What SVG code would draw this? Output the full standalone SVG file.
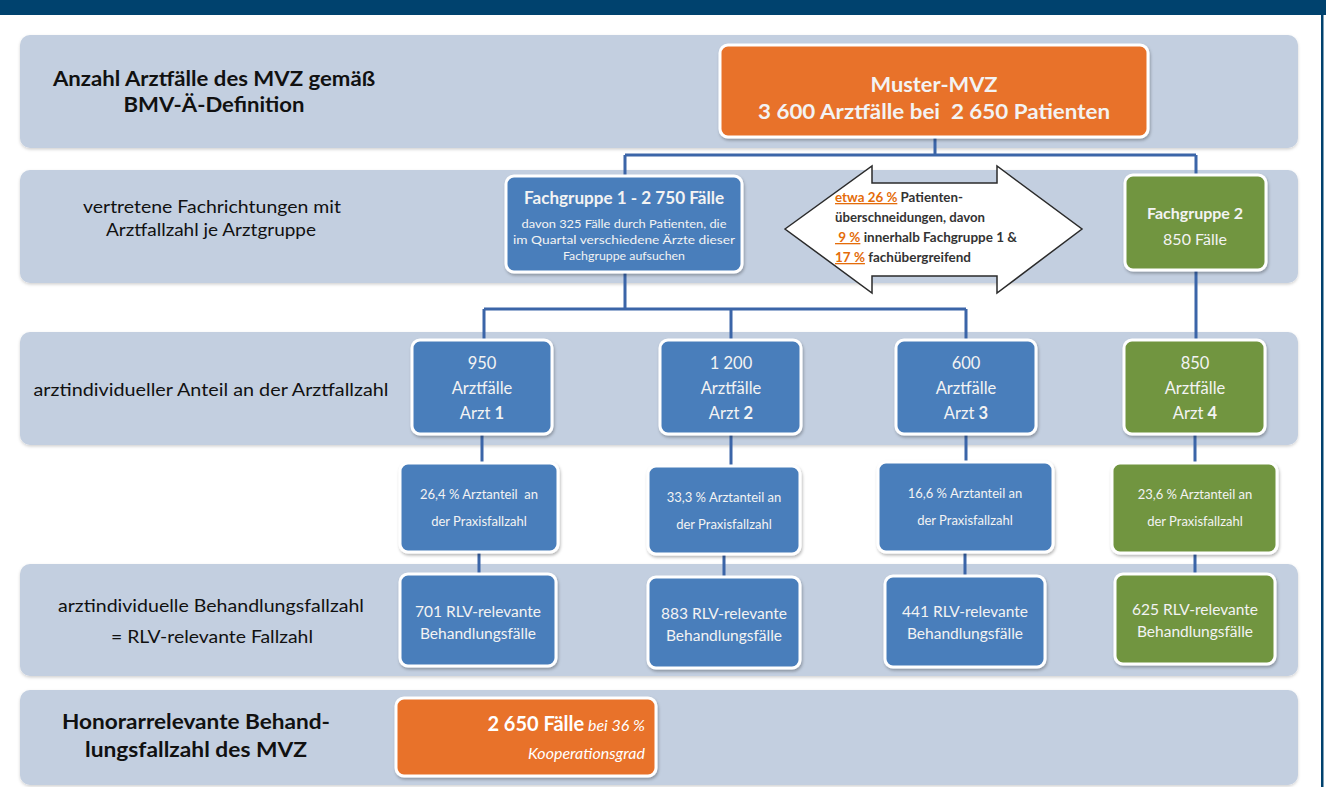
<svg xmlns="http://www.w3.org/2000/svg" width="1326" height="787" viewBox="0 0 1326 787">
<defs>
<filter id="sh" x="-10%" y="-10%" width="125%" height="130%"><feDropShadow dx="1" dy="2" stdDeviation="1.8" flood-color="#000" flood-opacity="0.28"/></filter>
<filter id="bsh" x="-2%" y="-5%" width="104%" height="115%"><feDropShadow dx="0" dy="1.5" stdDeviation="1.5" flood-color="#000" flood-opacity="0.18"/></filter>
</defs>
<style>
.band{fill:#c3cfe0;filter:url(#bsh)}
.blue{fill:#4a7ebb;stroke:#fff;stroke-width:3;filter:url(#sh)}
.green{fill:#71953f;stroke:#fff;stroke-width:3;filter:url(#sh)}
.orange{fill:#e8722a;stroke:#fff;stroke-width:3;filter:url(#sh)}
text{font-family:Lato,"Liberation Sans",sans-serif}
.lbl{fill:#111;text-anchor:middle;font-size:18px}
.lblb{fill:#111;text-anchor:middle;font-weight:bold}
.bt{fill:#f3f3f3;text-anchor:middle}
.r3{font-size:16.5px}
.r4{font-size:13px}
.r5{font-size:15.5px}
.conn{stroke:#3b65a8;stroke-width:3;fill:none}
.at{fill:#333;font-size:13px;font-weight:bold}
.o{fill:#e46c0a;text-decoration:underline}
</style>
<rect width="1326" height="787" fill="#fff"/>
<rect x="0" y="0" width="1326" height="15" fill="#00426e"/>
<rect x="1321" y="15" width="2.5" height="772" fill="#00426e"/>

<g id="bands">
<rect class="band" x="20" y="35" width="1278" height="113" rx="10"/>
<rect class="band" x="20" y="170" width="1278" height="113" rx="10"/>
<rect class="band" x="20" y="332" width="1278" height="113" rx="10"/>
<rect class="band" x="20" y="564" width="1278" height="112" rx="10"/>
<rect class="band" x="20" y="690" width="1278" height="95" rx="10"/>
</g>

<g id="labels">
<text class="lblb" x="214" y="86" font-size="20" textLength="322" lengthAdjust="spacingAndGlyphs">Anzahl Arztfälle des MVZ gemäß</text>
<text class="lblb" x="214" y="112" font-size="20" textLength="181" lengthAdjust="spacingAndGlyphs">BMV-Ä-Definition</text>
<text class="lbl" x="212" y="213" textLength="258" lengthAdjust="spacingAndGlyphs">vertretene Fachrichtungen mit</text>
<text class="lbl" x="211" y="236" textLength="210" lengthAdjust="spacingAndGlyphs">Arztfallzahl je Arztgruppe</text>
<text class="lbl" x="211" y="396" textLength="355" lengthAdjust="spacingAndGlyphs">arztindividueller Anteil an der Arztfallzahl</text>
<text class="lbl" x="211" y="612" textLength="306" lengthAdjust="spacingAndGlyphs">arztindividuelle Behandlungsfallzahl</text>
<text class="lbl" x="212" y="643" textLength="202" lengthAdjust="spacingAndGlyphs">= RLV-relevante Fallzahl</text>
<text class="lblb" x="196" y="729" font-size="21" textLength="268" lengthAdjust="spacingAndGlyphs">Honorarrelevante Behand-</text>
<text class="lblb" x="196" y="757" font-size="21" textLength="222" lengthAdjust="spacingAndGlyphs">lungsfallzahl des MVZ</text>
</g>

<g id="connectors">
<path class="conn" d="M935 137V155M625 155H1196M625 155V176M1196 155V176"/>
<path class="conn" d="M625 272V309M484 309H966M484 309V340M731 309V340M966 309V340M1196 270V340"/>
<path class="conn" d="M482 434V463M731 434V466M966 434V462M1195 434V463"/>
<path class="conn" d="M479 552V574M724 554V577M965 552V576M1195 553V574"/>
</g>

<g id="muster-mvz">
<rect class="orange" x="720" y="45" width="428" height="92" rx="8"/>
<text class="bt" x="934" y="92" font-size="21" font-weight="bold" textLength="127" lengthAdjust="spacingAndGlyphs">Muster-MVZ</text>
<text class="bt" x="934" y="119" font-size="21" font-weight="bold" textLength="352" lengthAdjust="spacingAndGlyphs" xml:space="preserve">3 600 Arztfälle bei  2 650 Patienten</text>
</g>

<g id="fachgruppe1">
<rect class="blue" x="506" y="176" width="236" height="96" rx="8"/>
<text class="bt" x="624" y="204" font-size="16.5" font-weight="bold" textLength="200" lengthAdjust="spacingAndGlyphs">Fachgruppe 1 - 2 750 Fälle</text>
<text class="bt" x="624" y="228" font-size="12" textLength="205" lengthAdjust="spacingAndGlyphs">davon 325 Fälle durch Patienten, die</text>
<text class="bt" x="624" y="244" font-size="12" textLength="222" lengthAdjust="spacingAndGlyphs">im Quartal verschiedene Ärzte dieser</text>
<text class="bt" x="624" y="260" font-size="12" textLength="122" lengthAdjust="spacingAndGlyphs">Fachgruppe aufsuchen</text>
</g>

<g id="overlap-arrow">
<polygon points="785,229 872,166 872,183 997,183 997,166 1082,229 997,293 997,276 872,276 872,293" fill="#fff" stroke="#2b2b2b" stroke-width="1.5"/>
<text class="at" x="835" y="202" textLength="128" lengthAdjust="spacingAndGlyphs"><tspan class="o">etwa 26 %</tspan> Patienten-</text>
<text class="at" x="835" y="222" textLength="150" lengthAdjust="spacingAndGlyphs">überschneidungen, davon</text>
<text class="at" x="835" y="242" textLength="182" lengthAdjust="spacingAndGlyphs" xml:space="preserve"><tspan class="o"> 9 %</tspan> innerhalb Fachgruppe 1 &amp;</text>
<text class="at" x="835" y="262" textLength="136" lengthAdjust="spacingAndGlyphs"><tspan class="o">17 %</tspan> fachübergreifend</text>
</g>

<g id="fachgruppe2">
<rect class="green" x="1125" y="175" width="141" height="95" rx="8"/>
<text class="bt" x="1195" y="219" font-size="16" font-weight="bold">Fachgruppe 2</text>
<text class="bt" x="1195" y="245" font-size="16">850 Fälle</text>
</g>

<g id="arzt1">
<rect class="blue" x="412" y="340" width="140" height="94" rx="8"/>
<text class="bt r3" x="482" y="369">950</text>
<text class="bt r3" x="482" y="394">Arztfälle</text>
<text class="bt r3" x="482" y="419">Arzt <tspan font-weight="bold">1</tspan></text>
</g>
<g id="arzt2">
<rect class="blue" x="660" y="340" width="141" height="94" rx="8"/>
<text class="bt r3" x="731" y="369">1 200</text>
<text class="bt r3" x="731" y="394">Arztfälle</text>
<text class="bt r3" x="731" y="419">Arzt <tspan font-weight="bold">2</tspan></text>
</g>
<g id="arzt3">
<rect class="blue" x="896" y="340" width="140" height="94" rx="8"/>
<text class="bt r3" x="966" y="369">600</text>
<text class="bt r3" x="966" y="394">Arztfälle</text>
<text class="bt r3" x="966" y="419">Arzt <tspan font-weight="bold">3</tspan></text>
</g>
<g id="arzt4">
<rect class="green" x="1124" y="340" width="141" height="94" rx="8"/>
<text class="bt r3" x="1195" y="369">850</text>
<text class="bt r3" x="1195" y="394">Arztfälle</text>
<text class="bt r3" x="1195" y="419">Arzt <tspan font-weight="bold">4</tspan></text>
</g>

<g id="anteil1">
<rect class="blue" x="400" y="463" width="158" height="89" rx="8"/>
<text class="bt r4" x="479" y="499" xml:space="preserve">26,4 % Arztanteil  an</text>
<text class="bt r4" x="479" y="526">der Praxisfallzahl</text>
</g>
<g id="anteil2">
<rect class="blue" x="648" y="466" width="152" height="88" rx="8"/>
<text class="bt r4" x="724" y="502">33,3 % Arztanteil an</text>
<text class="bt r4" x="724" y="529">der Praxisfallzahl</text>
</g>
<g id="anteil3">
<rect class="blue" x="878" y="462" width="175" height="90" rx="8"/>
<text class="bt r4" x="965" y="498">16,6 % Arztanteil an</text>
<text class="bt r4" x="965" y="525">der Praxisfallzahl</text>
</g>
<g id="anteil4">
<rect class="green" x="1112" y="463" width="165" height="90" rx="8"/>
<text class="bt r4" x="1195" y="499">23,6 % Arztanteil an</text>
<text class="bt r4" x="1195" y="526">der Praxisfallzahl</text>
</g>

<g id="rlv1">
<rect class="blue" x="400" y="574" width="156" height="92" rx="8"/>
<text class="bt r5" x="478" y="617">701 RLV-relevante</text>
<text class="bt r5" x="478" y="639">Behandlungsfälle</text>
</g>
<g id="rlv2">
<rect class="blue" x="648" y="577" width="152" height="91" rx="8"/>
<text class="bt r5" x="724" y="619">883 RLV-relevante</text>
<text class="bt r5" x="724" y="641">Behandlungsfälle</text>
</g>
<g id="rlv3">
<rect class="blue" x="885" y="576" width="160" height="91" rx="8"/>
<text class="bt r5" x="965" y="617">441 RLV-relevante</text>
<text class="bt r5" x="965" y="639">Behandlungsfälle</text>
</g>
<g id="rlv4">
<rect class="green" x="1115" y="574" width="160" height="90" rx="8"/>
<text class="bt r5" x="1195" y="615">625 RLV-relevante</text>
<text class="bt r5" x="1195" y="637">Behandlungsfälle</text>
</g>

<g id="honorar">
<rect class="orange" x="396" y="698" width="260" height="78" rx="8"/>
<text x="645" y="731" fill="#fff" text-anchor="end"><tspan font-size="20" font-weight="bold">2 650 Fälle</tspan><tspan font-size="16" font-style="italic"> bei 36 %</tspan></text>
<text x="645" y="759" fill="#fff" text-anchor="end" font-size="16" font-style="italic">Kooperationsgrad</text>
</g>
</svg>
